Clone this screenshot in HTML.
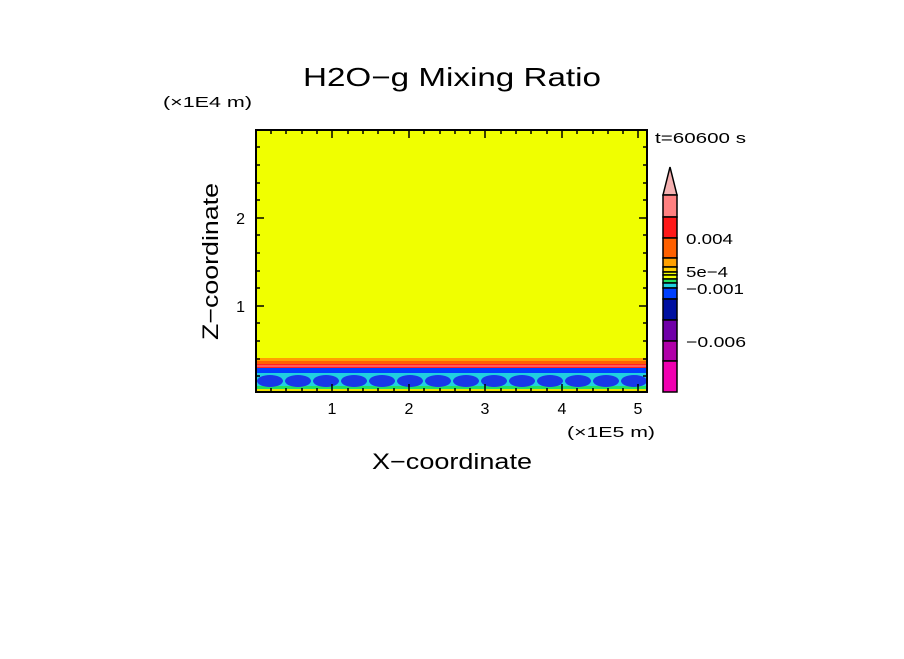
<!DOCTYPE html>
<html><head><style>
body{margin:0;background:#fff;}
svg text{font-family:"Liberation Sans",sans-serif;fill:#000;}
</style></head><body>
<svg width="904" height="654" xmlns="http://www.w3.org/2000/svg">
<rect width="904" height="654" fill="#fff"/>
<text x="303" y="86" font-size="26" textLength="298" lengthAdjust="spacingAndGlyphs">H2O−g Mixing Ratio</text>
<text x="163" y="107" font-size="15" textLength="89" lengthAdjust="spacingAndGlyphs">(×1E4 m)</text>
<text x="655" y="143" font-size="15" textLength="91" lengthAdjust="spacingAndGlyphs">t=60600 s</text>
<text x="567" y="437" font-size="15" textLength="88" lengthAdjust="spacingAndGlyphs">(×1E5 m)</text>
<text x="372" y="469" font-size="22" textLength="160" lengthAdjust="spacingAndGlyphs">X−coordinate</text>
<text transform="translate(218,340) rotate(-90)" font-size="22" textLength="157" lengthAdjust="spacingAndGlyphs">Z−coordinate</text>
<g font-size="16" text-anchor="middle">
<text x="332" y="414">1</text><text x="409" y="414">2</text><text x="485" y="414">3</text><text x="562" y="414">4</text><text x="638" y="414">5</text>
</g>
<g font-size="16" text-anchor="end">
<text x="245" y="224">2</text><text x="245" y="312">1</text>
</g>
<!-- plot -->
<rect x="256" y="130" width="391" height="262" fill="#f0ff00"/>
<rect x="256" y="358" width="391" height="4" fill="#ffa000"/>
<rect x="256" y="361" width="391" height="3" fill="#ff6000"/>
<rect x="256" y="364" width="391" height="4" fill="#ff2020"/>
<rect x="256" y="365" width="391" height="2" fill="#ff8080" opacity="0.6"/>
<rect x="256" y="368" width="391" height="5" fill="#0040ff"/>
<rect x="256" y="373" width="391" height="13" fill="#20d0e0"/>
<rect x="256" y="386" width="391" height="3" fill="#20e060"/>
<rect x="256" y="389" width="391" height="3" fill="#f0e000"/>
<g fill="#1838e8">
<ellipse cx="270" cy="381" rx="13" ry="6"/><ellipse cx="298" cy="381" rx="13" ry="6"/>
<ellipse cx="326" cy="381" rx="13" ry="6"/><ellipse cx="354" cy="381" rx="13" ry="6"/>
<ellipse cx="382" cy="381" rx="13" ry="6"/><ellipse cx="410" cy="381" rx="13" ry="6"/>
<ellipse cx="438" cy="381" rx="13" ry="6"/><ellipse cx="466" cy="381" rx="13" ry="6"/>
<ellipse cx="494" cy="381" rx="13" ry="6"/><ellipse cx="522" cy="381" rx="13" ry="6"/>
<ellipse cx="550" cy="381" rx="13" ry="6"/><ellipse cx="578" cy="381" rx="13" ry="6"/>
<ellipse cx="606" cy="381" rx="13" ry="6"/><ellipse cx="634" cy="381" rx="13" ry="6"/>
</g>
<rect x="256" y="130" width="391" height="262" fill="none" stroke="#000" stroke-width="2"/>
<g stroke="#000" stroke-width="1.5">
<path d="M332,392v-8M409,392v-8M485,392v-8M562,392v-8M638,392v-8M332,130v8M409,130v8M485,130v8M562,130v8M638,130v8"/>
<path d="M271,392v-4M286,392v-4M302,392v-4M317,392v-4M348,392v-4M363,392v-4M378,392v-4M394,392v-4M424,392v-4M440,392v-4M455,392v-4M470,392v-4M501,392v-4M516,392v-4M531,392v-4M547,392v-4M577,392v-4M593,392v-4M608,392v-4M623,392v-4"/>
<path d="M271,130v4M286,130v4M302,130v4M317,130v4M348,130v4M363,130v4M378,130v4M394,130v4M424,130v4M440,130v4M455,130v4M470,130v4M501,130v4M516,130v4M531,130v4M547,130v4M577,130v4M593,130v4M608,130v4M623,130v4"/>
<path d="M256,218h8M256,306h8M647,218h-8M647,306h-8"/>
<path d="M256,376h4M256,359h4M256,341h4M256,323h4M256,288h4M256,271h4M256,253h4M256,235h4M256,200h4M256,183h4M256,165h4M256,147h4"/>
<path d="M647,376h-4M647,359h-4M647,341h-4M647,323h-4M647,288h-4M647,271h-4M647,253h-4M647,235h-4M647,200h-4M647,183h-4M647,165h-4M647,147h-4"/>
</g>
<!-- colorbar -->
<g stroke="#000" stroke-width="1.5">
<polygon points="663,195 670,167 677,195" fill="#f4b0b0"/>
<rect x="663" y="195" width="14" height="22" fill="#ff8080"/>
<rect x="663" y="217" width="14" height="21" fill="#ff1818"/>
<rect x="663" y="238" width="14" height="20" fill="#ff6000"/>
<rect x="663" y="258" width="14" height="9" fill="#ffa000"/>
<rect x="663" y="267" width="14" height="5" fill="#ffd000"/>
<rect x="663" y="272" width="14" height="3" fill="#f0ff00"/>
<rect x="663" y="275" width="14" height="4" fill="#f0ff00"/>
<rect x="663" y="279" width="14" height="4" fill="#20e060"/>
<rect x="663" y="283" width="14" height="5" fill="#20d0e0"/>
<rect x="663" y="288" width="14" height="11" fill="#0040ff"/>
<rect x="663" y="299" width="14" height="21" fill="#0010a0"/>
<rect x="663" y="320" width="14" height="21" fill="#7000a8"/>
<rect x="663" y="341" width="14" height="20" fill="#b000a8"/>
<rect x="663" y="361" width="14" height="31" fill="#f000b0"/>
</g>
<g font-size="15">
<text x="686" y="244" textLength="47" lengthAdjust="spacingAndGlyphs">0.004</text>
<text x="686" y="277" textLength="42" lengthAdjust="spacingAndGlyphs">5e−4</text>
<text x="686" y="294" textLength="58" lengthAdjust="spacingAndGlyphs">−0.001</text>
<text x="686" y="347" textLength="60" lengthAdjust="spacingAndGlyphs">−0.006</text>
</g>
</svg>
</body></html>
